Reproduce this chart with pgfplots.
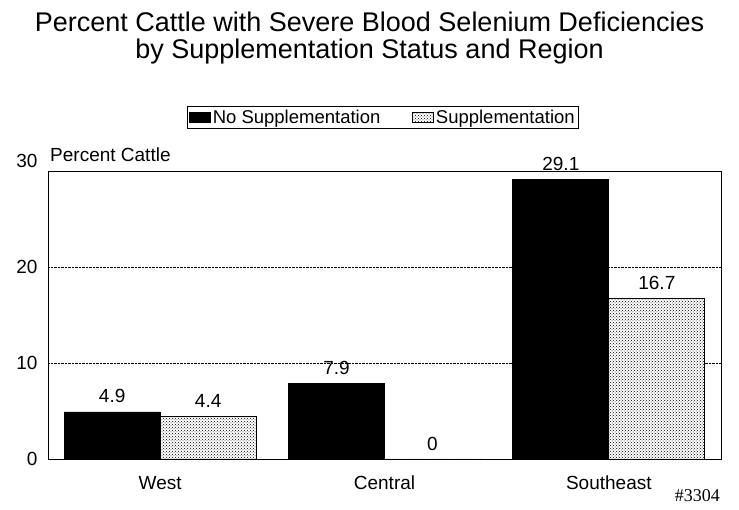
\documentclass[border=0pt]{standalone}
\usepackage{pgfplots}
\pgfplotsset{compat=1.18}
\usepackage{fontspec}
\setmainfont{Liberation Sans}
\newfontfamily\serif{Liberation Serif}
\usetikzlibrary{patterns}
\begin{document}
\begin{tikzpicture}[x=1pt,y=1pt]
\useasboundingbox (0,0) rectangle (739,510);
\begin{axis}[
  at={(48pt,51pt)}, anchor=south west,
  scale only axis, width=673pt, height=288pt,
  ybar=0pt, bar width=96pt,
  xmin=-0.5, xmax=2.5, ymin=0, ymax=30,
  xtick=data, xticklabels={West,Central,Southeast},
  ytick={0,10,20,30}, yticklabels={0,10,20,{\raisebox{20pt}{30}}},
  major tick length=0pt,
  ymajorgrids, grid style={black, densely dotted, line width=0.6pt},
  axis line style={black, line width=0.9pt},
  /pgf/number format/assume math mode=true,
  tick label style={font=\fontsize{19}{22}\selectfont},
  xticklabel style={anchor=center, yshift=-24pt, text height=13pt, text depth=0pt},
  yticklabel style={xshift=-7pt},
  nodes near coords,
  nodes near coords style={font=\fontsize{19}{22}\selectfont, yshift=5pt},
  legend columns=2,
  legend style={at={(axis description cs:0.4978,1.1858)}, anchor=center,
    draw=black, line width=0.9pt, font=\fontsize{18.5}{21}\selectfont,
    inner xsep=2pt, inner ysep=2pt,
    /tikz/every even column/.append style={column sep=30pt}},
  legend image code/.code={\draw[#1, line width=0.5pt] (0pt,-5pt) rectangle (21pt,5pt);},
]
\addplot[draw=black, fill=black, line width=0.9pt] coordinates {(0,4.9) (1,7.9) (2,29.1)};
\addplot[draw=black, fill=white, line width=0.9pt, postaction={pattern=crosshatch dots, pattern color=black}] coordinates {(0,4.4) (1,0) (2,16.7)};
\legend{No Supplementation, Supplementation}
\end{axis}
\node[font=\fontsize{27}{30}\selectfont] at (369.5,488) {Percent Cattle with Severe Blood Selenium Deficiencies};
\node[font=\fontsize{27}{30}\selectfont] at (369.5,458) {by Supplementation Status and Region};
\node[anchor=west, font=\fontsize{19}{22}\selectfont, inner sep=0pt] at (50,355) {Percent Cattle};
\node[anchor=east, font=\fontsize{18}{20}\serif, inner sep=0pt] at (720,14) {\#3304};
\end{tikzpicture}
\end{document}
